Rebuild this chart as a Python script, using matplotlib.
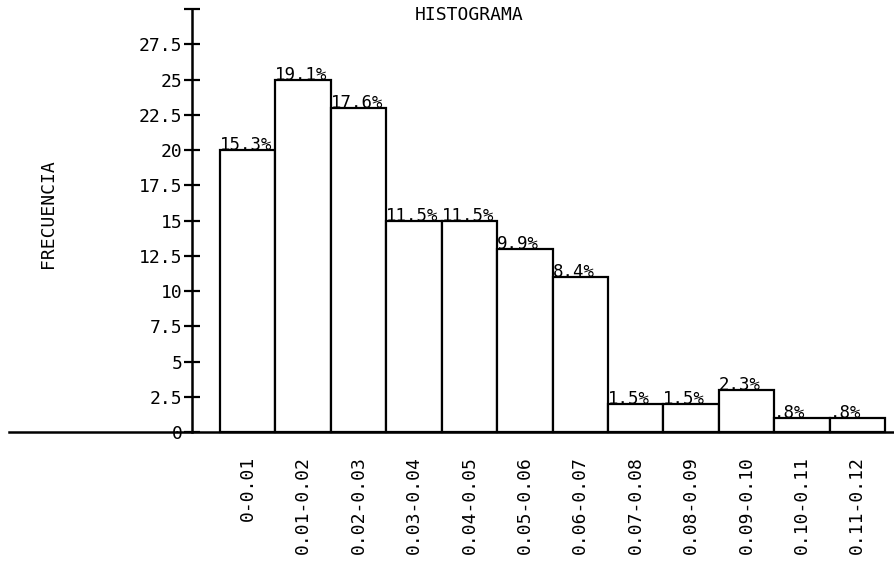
import numpy as np
import matplotlib
matplotlib.use("Agg")
import matplotlib.pyplot as plt

# ── Data ───────────────────────────────────────────────────────────────────────
CLASES = ["0-0.01", "0.01-0.02", "0.02-0.03", "0.03-0.04", "0.04-0.05",
          "0.05-0.06", "0.06-0.07", "0.07-0.08", "0.08-0.09", "0.09-0.10",
          "0.10-0.11", "0.11-0.12"]
FRECUENCIA = [20, 25, 23, 15, 15, 13, 11, 2, 2, 3, 1, 1]
Y_TICKS = [0, 2.5, 5, 7.5, 10, 12.5, 15, 17.5, 20, 22.5, 25, 27.5, 30]
Y_LABELS = ["0", "2.5", "5", "7.5", "10", "12.5", "15", "17.5", "20",
            "22.5", "25", "27.5", ""]

FONT = "DejaVu Sans Mono"


def pct_label(c, total):
    s = f"{c / total * 100:.1f}%"
    return s[1:] if s.startswith("0") else s


def main():
    fig = plt.figure(figsize=(8.95, 5.88), dpi=100)
    ax = fig.add_axes([0, 0, 1, 1])
    ax.set_facecolor("white")

    # pixel-matched limits (bar width = 1 unit, y unit ~14.1 px)
    ax.set_xlim(-3.97, 12.18)
    ax.set_ylim(-11.06, 30.64)

    x = np.arange(len(FRECUENCIA))
    ax.bar(x, FRECUENCIA, width=1.0, align="edge", facecolor="white",
           edgecolor="black", linewidth=1.6, zorder=2)

    total = sum(FRECUENCIA)
    for xi, c in zip(x, FRECUENCIA):
        ax.text(xi, c, pct_label(c, total), ha="left", va="baseline",
                fontsize=12.5, family=FONT, zorder=3)

    # axes drawn like the plotter output
    for side in ["top", "right"]:
        ax.spines[side].set_visible(False)
    ax.spines["left"].set_position(("data", -0.5))
    ax.spines["left"].set_bounds(0, 30)
    ax.spines["left"].set_linewidth(1.8)
    ax.spines["bottom"].set_position(("data", 0))
    ax.spines["bottom"].set_bounds(-3.8, 12.18)
    ax.spines["bottom"].set_linewidth(1.8)

    ax.set_yticks(Y_TICKS)
    ax.set_yticklabels(Y_LABELS, fontsize=13, family=FONT)
    ax.tick_params(axis="y", direction="inout", length=12, width=1.6, pad=1)

    ax.set_xticks(x + 0.5)
    ax.set_xticklabels(CLASES, rotation=90, fontsize=13, family=FONT)
    ax.tick_params(axis="x", length=0, pad=17)

    ax.text(4.5, 29.6, "HISTOGRAMA", ha="center", va="center",
            fontsize=13, family=FONT)
    ax.text(-3.1, 15.5, "FRECUENCIA", rotation=90, ha="center", va="center",
            fontsize=13, family=FONT)

    fig.savefig("out.png", dpi=100, facecolor="white")
    plt.close(fig)


if __name__ == "__main__":
    main()
